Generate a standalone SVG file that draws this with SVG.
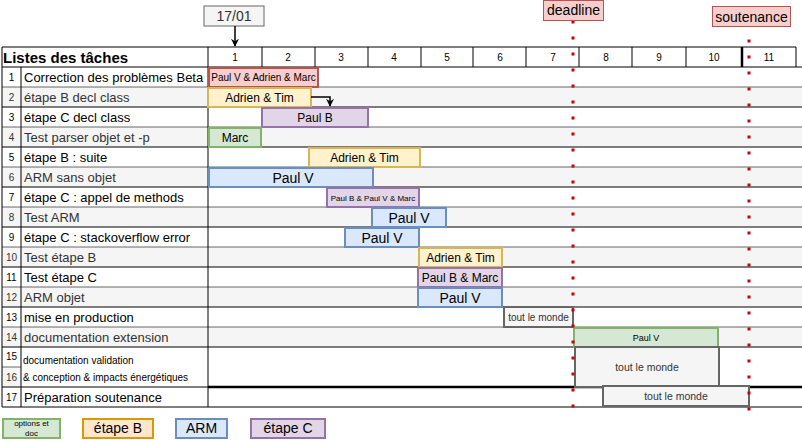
<svg xmlns="http://www.w3.org/2000/svg" width="802" height="440" viewBox="0 0 802 440">
<defs>
<marker id="arr" viewBox="0 0 10 10" refX="9" refY="5" markerWidth="8" markerHeight="8" orient="auto" markerUnits="userSpaceOnUse">
<path d="M0,0 L10,5 L0,10 L3,5 Z" fill="#000"/>
</marker>
<style>
text{font-family:"Liberation Sans",Arial,sans-serif;}
.bk{stroke:#000;stroke-width:1;}
.gy{stroke:#666;stroke-width:1;}
.num{font-size:10px;text-anchor:middle;}
.nm{font-size:13px;}
.dk{fill:#000;}
.lt{fill:#333;}
.wk{font-size:10px;text-anchor:middle;}
.bar{stroke-width:2;}
.red{fill:#f8cecc;stroke:#b85450;}
.yel{fill:#fff2cc;stroke:#d6b656;}
.pur{fill:#e1d5e7;stroke:#9673a6;}
.grn{fill:#d5e8d4;stroke:#82b366;}
.blu{fill:#dae8fc;stroke:#6c8ebf;}
.gry{fill:#f5f5f5;stroke:#666;}
.org{fill:#ffe6cc;stroke:#d79b00;}
.bt{text-anchor:middle;fill:#000;}
.dot{stroke:#cc0000;stroke-width:3;stroke-dasharray:3 13;fill:none;}
</style>
</defs>

<g id="table">
<rect x="2" y="47" width="794" height="20" fill="#fff"/>
<rect x="2" y="87" width="800" height="20" fill="#f5f5f5"/>
<rect x="2" y="127" width="800" height="20" fill="#f5f5f5"/>
<rect x="2" y="167" width="800" height="20" fill="#f5f5f5"/>
<rect x="2" y="207" width="800" height="20" fill="#f5f5f5"/>
<rect x="2" y="247" width="800" height="20" fill="#f5f5f5"/>
<rect x="2" y="287" width="800" height="20" fill="#f5f5f5"/>
<rect x="2" y="327" width="800" height="20" fill="#f5f5f5"/>
<rect x="2" y="367" width="19" height="20" fill="#f5f5f5"/>
<line x1="2" y1="47" x2="796" y2="47" class="bk"/>
<line x1="2" y1="67" x2="802" y2="67" class="bk"/>
<line x1="2" y1="87" x2="802" y2="87" class="gy"/>
<line x1="2" y1="107" x2="802" y2="107" class="bk"/>
<line x1="2" y1="127" x2="802" y2="127" class="gy"/>
<line x1="2" y1="147" x2="802" y2="147" class="bk"/>
<line x1="2" y1="167" x2="802" y2="167" class="gy"/>
<line x1="2" y1="187" x2="802" y2="187" class="bk"/>
<line x1="2" y1="207" x2="802" y2="207" class="gy"/>
<line x1="2" y1="227" x2="802" y2="227" class="bk"/>
<line x1="2" y1="247" x2="802" y2="247" class="gy"/>
<line x1="2" y1="267" x2="802" y2="267" class="bk"/>
<line x1="2" y1="287" x2="802" y2="287" class="gy"/>
<line x1="2" y1="307" x2="802" y2="307" class="bk"/>
<line x1="2" y1="327" x2="802" y2="327" class="gy"/>
<line x1="2" y1="347" x2="802" y2="347" class="bk"/>
<line x1="2" y1="367" x2="21" y2="367" class="gy"/>
<line x1="2" y1="387" x2="208" y2="387" class="bk"/>
<line x1="208" y1="387" x2="802" y2="387" stroke="#000" stroke-width="2.5"/>
<line x1="2" y1="407" x2="802" y2="407" class="bk"/>
<line x1="2" y1="47" x2="2" y2="407" class="bk"/>
<line x1="21" y1="67" x2="21" y2="407" class="bk"/>
<line x1="208" y1="47" x2="208" y2="407" class="bk"/>
<line x1="262" y1="47" x2="262" y2="67" class="bk"/>
<line x1="315" y1="47" x2="315" y2="67" class="bk"/>
<line x1="368" y1="47" x2="368" y2="67" class="bk"/>
<line x1="421" y1="47" x2="421" y2="67" class="bk"/>
<line x1="473" y1="47" x2="473" y2="67" class="bk"/>
<line x1="526" y1="47" x2="526" y2="67" class="bk"/>
<line x1="579" y1="47" x2="579" y2="67" class="bk"/>
<line x1="632" y1="47" x2="632" y2="67" class="bk"/>
<line x1="686" y1="47" x2="686" y2="67" class="bk"/>
<line x1="742" y1="47" x2="742" y2="67" stroke="#000" stroke-width="2.5"/>
<line x1="796" y1="47" x2="796" y2="67" class="bk"/>
<text x="3" y="63" font-size="15" font-weight="bold">Listes des tâches</text>
<text class="wk" x="235" y="61">1</text>
<text class="wk" x="288" y="61">2</text>
<text class="wk" x="341" y="61">3</text>
<text class="wk" x="394" y="61">4</text>
<text class="wk" x="447" y="61">5</text>
<text class="wk" x="500" y="61">6</text>
<text class="wk" x="553" y="61">7</text>
<text class="wk" x="606" y="61">8</text>
<text class="wk" x="659" y="61">9</text>
<text class="wk" x="714" y="61">10</text>
<text class="wk" x="769" y="61">11</text>
<text class="num dk" x="11.5" y="81">1</text>
<text class="num lt" x="11.5" y="101">2</text>
<text class="num dk" x="11.5" y="121">3</text>
<text class="num lt" x="11.5" y="141">4</text>
<text class="num dk" x="11.5" y="161">5</text>
<text class="num lt" x="11.5" y="181">6</text>
<text class="num dk" x="11.5" y="201">7</text>
<text class="num lt" x="11.5" y="221">8</text>
<text class="num dk" x="11.5" y="241">9</text>
<text class="num lt" x="11.5" y="261">10</text>
<text class="num dk" x="11.5" y="281">11</text>
<text class="num lt" x="11.5" y="301">12</text>
<text class="num dk" x="11.5" y="321">13</text>
<text class="num lt" x="11.5" y="341">14</text>
<text class="num dk" x="11.5" y="360">15</text>
<text class="num lt" x="11.5" y="381">16</text>
<text class="num dk" x="11.5" y="401">17</text>
<text class="nm dk" x="24" y="82">Correction des problèmes Beta</text>
<text class="nm lt" x="24" y="102">étape B decl class</text>
<text class="nm dk" x="24" y="122">étape C decl class</text>
<text class="nm lt" x="24" y="142">Test parser objet et -p</text>
<text class="nm dk" x="24" y="162">étape B : suite</text>
<text class="nm lt" x="24" y="182">ARM sans objet</text>
<text class="nm dk" x="24" y="202">étape C : appel de methods</text>
<text class="nm lt" x="24" y="222">Test ARM</text>
<text class="nm dk" x="24" y="242">étape C : stackoverflow error</text>
<text class="nm lt" x="24" y="262">Test étape B</text>
<text class="nm dk" x="24" y="282">Test étape C</text>
<text class="nm lt" x="24" y="302">ARM objet</text>
<text class="nm dk" x="24" y="322">mise en production</text>
<text class="nm lt" x="24" y="342">documentation extension</text>
<text class="dk" x="23" y="364" font-size="10">documentation validation</text>
<text class="dk" x="23" y="381" font-size="10">&amp; conception &amp; impacts énergétiques</text>
<text class="nm dk" x="24" y="402">Préparation soutenance</text>
</g>

<g id="bar1"><rect class="bar red" x="209" y="68" width="109" height="19"/><text class="bt" x="263.5" y="81" font-size="10">Paul V &amp; Adrien &amp; Marc</text></g>
<g id="bar2"><rect class="bar yel" x="208" y="88" width="103" height="19"/><text class="bt" x="259.5" y="101.5" font-size="12">Adrien &amp; Tim</text></g>
<g id="bar3"><rect class="bar pur" x="262" y="108" width="106" height="19"/><text class="bt" x="315" y="121.5" font-size="12">Paul B</text></g>
<g id="bar4"><rect class="bar grn" x="209" y="128" width="52" height="19"/><text class="bt" x="235" y="141.5" font-size="12">Marc</text></g>
<g id="bar5"><rect class="bar yel" x="309" y="148" width="111" height="19"/><text class="bt" x="364.5" y="161.5" font-size="12">Adrien &amp; Tim</text></g>
<g id="bar6"><rect class="bar blu" x="209" y="168" width="164" height="19"/><text class="bt" x="293" y="182.5" font-size="14">Paul V</text></g>
<g id="bar7"><rect class="bar pur" x="327" y="188" width="92" height="19"/><text class="bt" x="373" y="200.5" font-size="8">Paul B &amp; Paul V &amp; Marc</text></g>
<g id="bar8"><rect class="bar blu" x="372" y="208" width="74" height="19"/><text class="bt" x="409" y="222.5" font-size="14">Paul V</text></g>
<g id="bar9"><rect class="bar blu" x="345" y="228" width="74" height="19"/><text class="bt" x="382" y="242.5" font-size="14">Paul V</text></g>
<g id="bar10"><rect class="bar yel" x="419" y="248" width="83" height="19"/><text class="bt" x="460.5" y="261.5" font-size="12">Adrien &amp; Tim</text></g>
<g id="bar11"><rect class="bar pur" x="418" y="268" width="84" height="19"/><text class="bt" x="460" y="281.5" font-size="12">Paul B &amp; Marc</text></g>
<g id="bar12"><rect class="bar blu" x="418" y="288" width="84" height="19"/><text class="bt" x="460" y="302.5" font-size="14">Paul V</text></g>
<g id="bar13"><rect class="bar gry" x="504" y="307" width="69" height="20"/><text class="bt" x="538.5" y="321" font-size="10" style="fill:#333">tout le monde</text></g>
<g id="bar14"><rect class="bar grn" x="574" y="328" width="144" height="19"/><text class="bt" x="646" y="340.5" font-size="9">Paul V</text></g>
<g id="bar15"><rect class="bar gry" x="575" y="347" width="144" height="40"/><text class="bt" x="647" y="371" font-size="10.5" style="fill:#333">tout le monde</text></g>
<g id="bar17"><rect class="bar gry" x="603" y="386" width="146" height="20"/><text class="bt" x="676" y="400" font-size="10.5" style="fill:#333">tout le monde</text></g>

<g id="date">
<rect x="204" y="6" width="60" height="20" fill="#f5f5f5" stroke="#666"/>
<text x="234" y="21" font-size="14" text-anchor="middle" fill="#333">17/01</text>
</g>

<g id="deadline">
<line class="dot" x1="573" y1="20.5" x2="573" y2="408"/>
<rect x="543.5" y="0.5" width="60" height="20" fill="#f8cecc" stroke="#b85450"/>
<text x="573.5" y="15" font-size="14" text-anchor="middle">deadline</text>
</g>
<g id="soutenance">
<line class="dot" x1="749" y1="23.5" x2="749" y2="411"/>
<rect x="712.5" y="6.5" width="78" height="20" fill="#f8cecc" stroke="#b85450"/>
<text x="751.5" y="21.5" font-size="14" text-anchor="middle">soutenance</text>
</g>

<g id="connectors" fill="none" stroke="#000" stroke-width="1.5">
<path d="M235,26 L235,46" marker-end="url(#arr)"/>
<path d="M311,97 L330,97 L330,106" marker-end="url(#arr)"/>
</g>

<g id="legend">
<g id="leg-doc"><rect class="bar grn" x="3" y="419" width="57" height="19"/><text class="bt" x="31.5" y="426" font-size="8">options et</text><text class="bt" x="31.5" y="436" font-size="8">doc</text></g>
<g id="leg-b"><rect class="bar org" x="83" y="419" width="70" height="19"/><text class="bt" x="118" y="433" font-size="14">étape B</text></g>
<g id="leg-arm"><rect class="bar blu" x="176" y="419" width="51" height="19"/><text class="bt" x="201.5" y="433" font-size="14">ARM</text></g>
<g id="leg-c"><rect class="bar pur" x="251" y="419" width="74" height="19"/><text class="bt" x="288" y="433" font-size="14">étape C</text></g>
</g>
</svg>
